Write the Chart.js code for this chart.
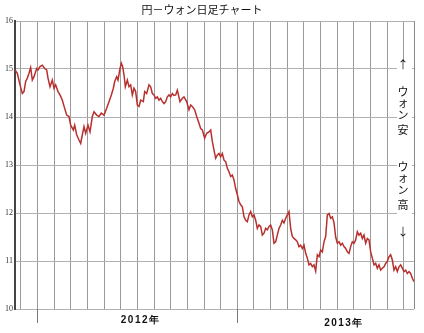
<!DOCTYPE html>
<html>
<head>
<meta charset="utf-8">
<script src="https://cdn.jsdelivr.net/npm/chart.js@4/dist/chart.umd.min.js"></script>
<style>
html,body{margin:0;padding:0;background:#fff;}
canvas{display:block;}
</style>
</head>
<body>
<canvas id="c" width="424" height="333"></canvas>
<script>
// Chart title and annotation texts
const chartTitle = "円－ウォン日足チャート";
const yearLabels = ["2012年", "2013年"];
const yearLabelPos = [6.2, 18.4];      // months since Jan 2012 (label centres)
const yearStarts = [0, 12];            // months since Jan 2012
const gridMonths = [-1,0,1,2,3,4,5,6,7,8,9,10,11,12,13,14,15,16,17,18,19,20,21,22];
const yTicks = [10,11,12,13,14,15,16];
const upperNote = ["↑","ウ","ォ","ン","安"];
const lowerNote = ["ウ","ォ","ン","高","↓"];

// Time position (months since Jan 2012) and yen-won rate (won per yen)
const monthPos = [
-1.34,-1.20,-1.04,-0.90,-0.80,-0.70,-0.60,-0.50,-0.40,-0.30,-0.20,-0.04,0.04,0.16,0.30,0.44,0.56,0.64,0.76,0.90,
1.00,1.10,1.24,1.36,1.50,1.64,1.76,1.90,2.00,2.16,2.24,2.36,2.50,2.60,2.70,2.80,2.90,3.04,3.16,3.30,
3.40,3.56,3.70,3.84,4.00,4.16,4.30,4.44,4.56,4.64,4.76,4.84,4.96,5.04,5.12,5.20,5.28,5.40,5.50,5.60,
5.70,5.80,5.90,6.00,6.10,6.20,6.36,6.44,6.56,6.70,6.80,6.90,7.00,7.10,7.20,7.30,7.40,7.50,7.60,7.70,
7.80,7.90,8.00,8.10,8.20,8.30,8.40,8.56,8.70,8.80,8.96,9.10,9.20,9.30,9.44,9.56,9.70,9.80,9.90,10.04,
10.16,10.30,10.40,10.50,10.60,10.70,10.80,10.90,11.00,11.10,11.20,11.30,11.40,11.50,11.60,11.70,11.80,11.90,12.00,12.10,
12.20,12.30,12.40,12.50,12.60,12.70,12.80,12.90,13.00,13.10,13.20,13.30,13.40,13.50,13.60,13.70,13.80,13.90,14.00,14.10,
14.20,14.30,14.40,14.50,14.60,14.70,14.80,14.90,15.00,15.10,15.20,15.30,15.40,15.50,15.60,15.70,15.80,15.90,16.00,16.10,
16.20,16.30,16.40,16.50,16.60,16.70,16.80,16.90,17.00,17.10,17.20,17.30,17.40,17.50,17.60,17.70,17.80,17.90,18.00,18.10,
18.20,18.30,18.40,18.50,18.60,18.70,18.80,18.90,19.00,19.10,19.20,19.30,19.40,19.50,19.60,19.70,19.80,19.90,20.00,20.10,
20.20,20.30,20.40,20.50,20.60,20.70,20.80,20.90,21.00,21.10,21.20,21.30,21.40,21.50,21.60,21.70,21.80,21.90,22.00,22.10,
22.20,22.30,22.40,22.50,22.60
];
const rate = [
14.98,14.91,14.67,14.49,14.53,14.74,14.81,14.91,15.03,14.77,14.84,15.01,14.98,15.05,15.08,15.01,14.98,14.81,14.63,14.77,
14.60,14.67,14.53,14.46,14.35,14.18,14.04,14.01,13.83,13.73,13.83,13.63,13.52,13.45,13.63,13.80,13.66,13.83,13.69,14.01,
14.11,14.04,14.01,14.08,14.04,14.18,14.32,14.46,14.60,14.74,14.84,14.77,15.01,15.12,15.05,14.88,14.63,14.77,14.63,14.67,
14.46,14.60,14.53,14.25,14.22,14.35,14.32,14.53,14.49,14.67,14.63,14.49,14.46,14.39,14.42,14.35,14.39,14.32,14.28,14.32,
14.42,14.46,14.42,14.49,14.45,14.46,14.56,14.32,14.39,14.42,14.32,14.15,14.25,14.22,14.15,14.01,13.87,13.76,13.73,13.56,
13.66,13.69,13.73,13.49,13.31,13.14,13.21,13.24,13.17,13.24,13.10,13.07,12.93,12.86,12.76,12.79,12.69,12.51,12.38,12.24,
12.17,12.13,11.92,11.85,11.82,11.96,12.03,11.92,11.96,11.85,11.68,11.75,11.72,11.54,11.58,11.68,11.65,11.72,11.75,11.65,
11.37,11.40,11.54,11.68,11.75,11.85,11.79,11.89,11.96,12.03,11.68,11.51,11.47,11.44,11.40,11.30,11.33,11.26,11.33,11.16,
11.06,10.92,10.95,10.88,10.92,10.79,11.13,11.09,11.23,11.19,11.40,11.51,11.96,11.99,11.89,11.92,11.80,11.50,11.37,11.40,
11.33,11.37,11.30,11.26,11.19,11.16,11.30,11.40,11.37,11.44,11.61,11.54,11.58,11.47,11.54,11.37,11.47,11.44,11.19,11.06,
10.92,10.95,10.85,10.92,10.81,10.85,10.88,10.95,10.99,11.09,11.13,11.02,10.81,10.88,10.78,10.88,10.92,10.85,10.78,10.81,
10.74,10.78,10.74,10.64,10.57
];

const points = monthPos.map((m, i) => ({ x: m, y: rate[i] }));

const decor = {
  id: 'decor',
  afterDraw(chart) {
    const ctx = chart.ctx;
    const a = chart.chartArea;
    const xs = chart.scales.x;
    ctx.save();
    // right border
    ctx.strokeStyle = '#888';
    ctx.lineWidth = 1;
    ctx.beginPath();
    ctx.moveTo(a.right + 0.5, a.top);
    ctx.lineTo(a.right + 0.5, a.bottom);
    ctx.stroke();
    // year boundary ticks
    ctx.strokeStyle = '#777';
    yearStarts.forEach(v => {
      const px = Math.round(xs.getPixelForValue(v)) + 0.5;
      ctx.beginPath();
      ctx.moveTo(px, a.bottom);
      ctx.lineTo(px, a.bottom + 14);
      ctx.stroke();
    });
    // year labels
    ctx.fillStyle = '#111';
    ctx.font = 'bold 10px "Liberation Sans", Arial, sans-serif';
    ctx.textAlign = 'center';
    ctx.textBaseline = 'middle';
    if ('letterSpacing' in ctx) ctx.letterSpacing = '1.5px';
    yearLabels.forEach((t, i) => {
      ctx.fillText(t, xs.getPixelForValue(yearLabelPos[i]), a.bottom + 11 + i * 3.5);
    });
    if ('letterSpacing' in ctx) ctx.letterSpacing = '0px';
    // title
    ctx.font = '11px "Noto Sans CJK JP", sans-serif';
    ctx.fillStyle = '#111';
    ctx.fillText(chartTitle, 202, 10);
    // white box for right-side vertical notes
    const cx = a.right - 11;
    ctx.fillStyle = '#fff';
    ctx.fillRect(cx - 6, 62, 15, 175);
    ctx.fillStyle = '#111';
    ctx.font = '11px "Noto Sans CJK JP", sans-serif';
    const upY = [65, 92, 103, 115, 130];
    const loY = [167, 178, 190, 205, 232];
    upperNote.forEach((t, i) => ctx.fillText(t, cx, upY[i]));
    lowerNote.forEach((t, i) => ctx.fillText(t, cx, loY[i]));
    ctx.restore();
  }
};

new Chart(document.getElementById('c'), {
  type: 'line',
  data: {
    datasets: [{
      data: points,
      borderColor: '#b8302e',
      borderWidth: 1.5,
      pointRadius: 0,
      tension: 0,
      fill: false
    }]
  },
  options: {
    responsive: false,
    animation: false,
    devicePixelRatio: 1,
    parsing: true,
    layout: { padding: { top: 21, right: 10, left: 0, bottom: 0 } },
    plugins: { legend: { display: false }, tooltip: { enabled: false }, title: { display: false } },
    scales: {
      x: {
        type: 'linear',
        min: -1.34,
        max: 22.6,
        afterBuildTicks: s => { s.ticks = gridMonths.map(v => ({ value: v })); },
        afterFit: s => { s.height = 24; },
        ticks: { display: false },
        grid: { color: '#9a9a9a', lineWidth: 1, drawTicks: false },
        border: { display: false }
      },
      y: {
        min: 10,
        max: 16,
        afterBuildTicks: s => { s.ticks = yTicks.map(v => ({ value: v })); },
        afterFit: s => { s.width = 15; },
        ticks: {
          padding: 2,
          color: '#333',
          font: { family: '"Liberation Serif", serif', size: 8 }
        },
        grid: { color: '#b0b0b0', lineWidth: 1, drawTicks: false },
        border: { color: '#444', width: 2 }
      }
    }
  },
  plugins: [decor]
});
</script>
</body>
</html>
